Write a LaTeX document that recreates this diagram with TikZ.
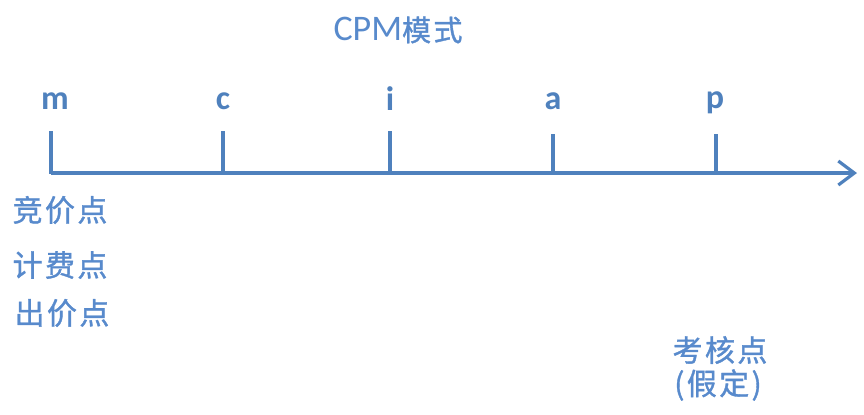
\documentclass[tikz,border=0pt]{standalone}
\usepackage{fontspec}
\setmainfont{Carlito}
\newfontfamily\cjk[FakeBold=1.2, LetterSpace=8]{Noto Sans CJK SC}
\usepackage{tikz}
\usetikzlibrary{positioning}
\usetikzlibrary{arrows.meta}

\definecolor{cpmblue}{RGB}{79,129,189}
\definecolor{cpmtext}{RGB}{88,138,204}

\tikzset{
  axisline/.style={line width=1.6pt, cpmblue},
  tickline/.style={line width=1.6pt, cpmblue},
  letterlabel/.style={font=\fontsize{17}{17}\selectfont\bfseries, text=cpmblue, inner sep=0pt},
  zhlabel/.style={font=\cjk\fontsize{15}{17}\selectfont, text=cpmtext, inner sep=0pt}
}

\begin{document}
\begin{tikzpicture}[x=0.5pt, y=-0.5pt]

\useasboundingbox (0,0) rectangle (864,414);

% title
\node (title)
  at (398,30) {
    \textcolor{cpmtext}{\fontsize{18}{18}\selectfont CPM{\cjk\fontsize{14.5}{14.5}\selectfont 模式}}
  };

% axis
\coordinate (start) at (51,173);
\coordinate (end) at (857,173);
\draw[axisline, -{Straight Barb[length=8pt, width=12pt, line width=1.6pt]}]
  (start) -- (end);

% ticks
\coordinate (mtop) at (51,131);
\coordinate (mbot) at (51,174);
\draw[tickline] (mtop) -- (mbot);

\coordinate (ctop) at (223,131);
\coordinate (cbot) at (223,174);
\draw[tickline] (ctop) -- (cbot);

\coordinate (itop) at (390,131);
\coordinate (ibot) at (390,174);
\draw[tickline] (itop) -- (ibot);

\coordinate (atop) at (553,134);
\coordinate (abot) at (553,174);
\draw[tickline] (atop) -- (abot);

\coordinate (ptop) at (716,134);
\coordinate (pbot) at (716,174);
\draw[tickline] (ptop) -- (pbot);

% letters
\node[letterlabel] (m) at (55,101) {m};
\node[letterlabel] (c) at (223,101) {c};
\node[letterlabel] (i) at (390,99) {i};
\node[letterlabel] (a) at (553,101) {a};
\node[letterlabel] (p) at (715,103) {p};

% left labels
\node[zhlabel] (bid) at (60,210) {竞价点};
\node[zhlabel] (charge) at (60,265) {计费点};
\node[zhlabel] (offer) at (62,313) {出价点};

% bottom right
\node[zhlabel] (check) at (720,350) {考核点};
\node[zhlabel] (assume) at (718,385) {(假定)};

\end{tikzpicture}
\end{document}
